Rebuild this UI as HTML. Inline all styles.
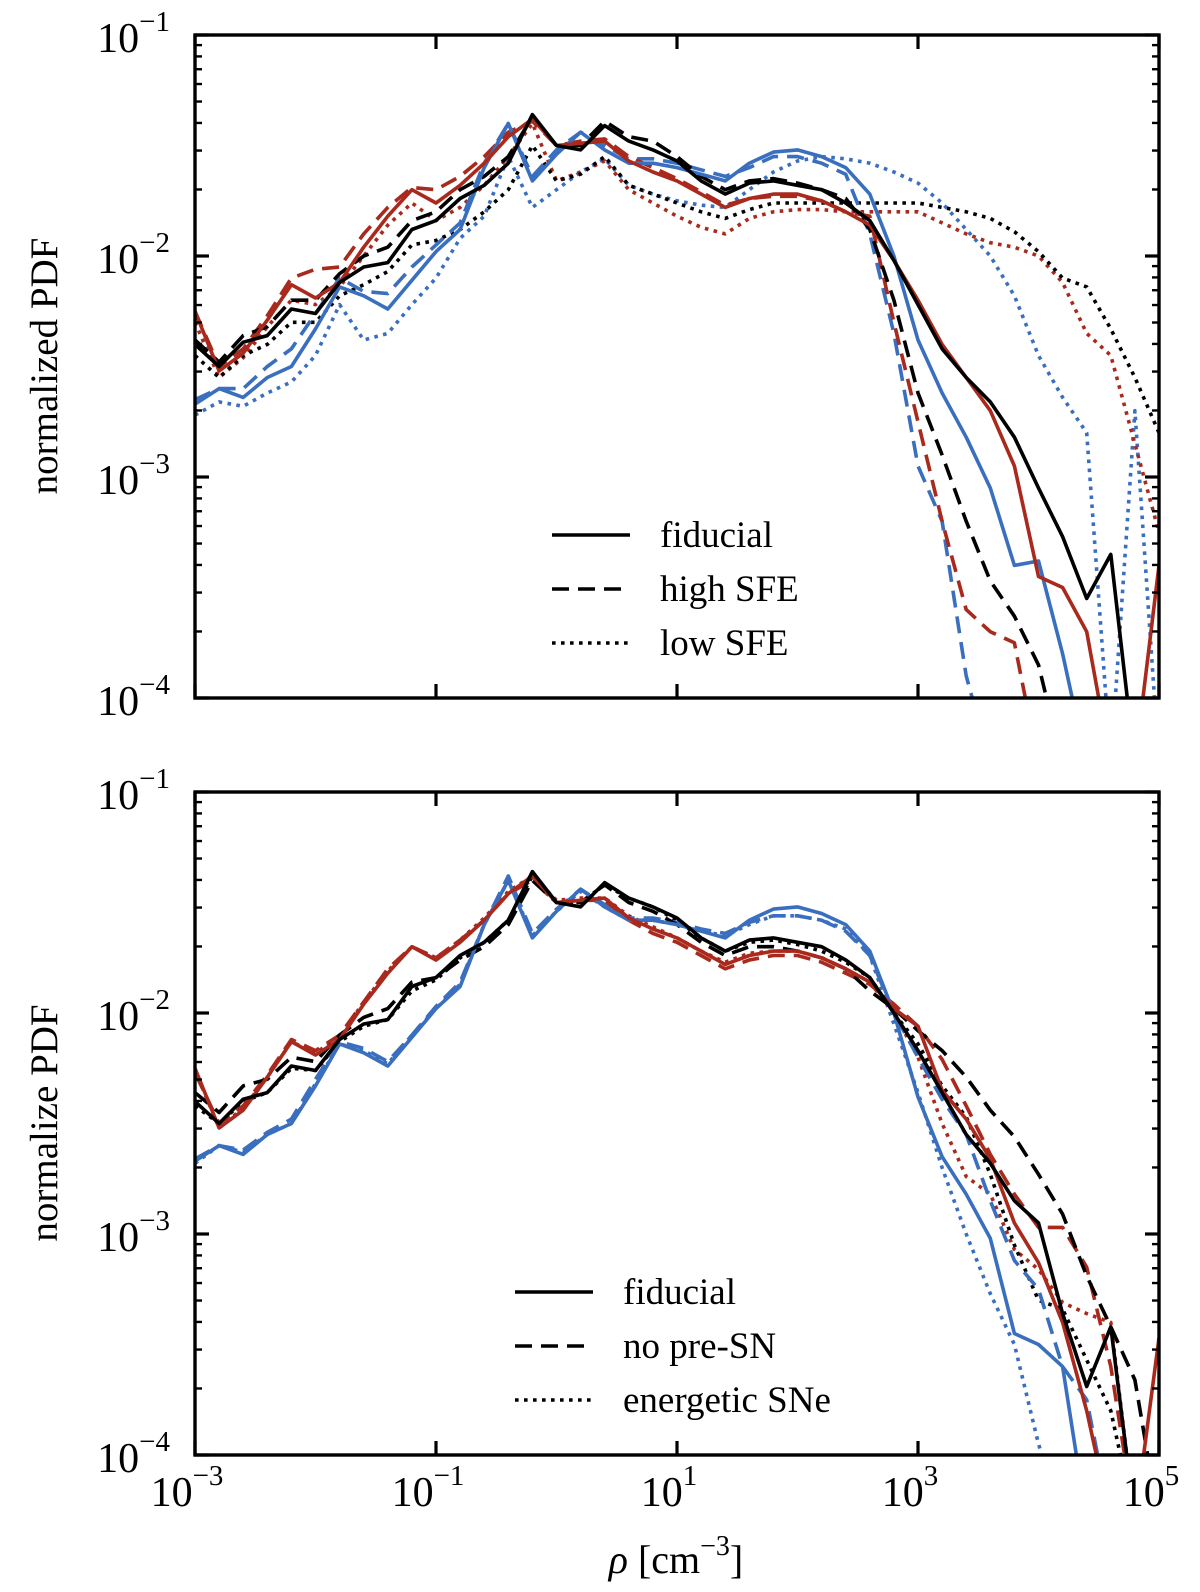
<!DOCTYPE html>
<html><head><meta charset="utf-8"><title>Density PDFs</title>
<style>
html,body{margin:0;padding:0;background:#fff;width:1200px;height:1592px;overflow:hidden;}
svg{display:block;}
text{font-family:"Liberation Serif",serif;fill:#000;}
</style></head>
<body>
<svg id="fig" width="1200" height="1592" viewBox="0 0 1200 1592" xmlns="http://www.w3.org/2000/svg">
<defs>
<clipPath id="clipTop"><rect x="195" y="35" width="964" height="663"/></clipPath>
<clipPath id="clipBot"><rect x="195" y="792" width="964" height="663"/></clipPath>
</defs>
<g id="topPanel"></g>
<g id="botPanel"></g>
<text x="0" y="0" font-size="39" text-anchor="middle" transform="translate(57,366) rotate(-90)">normalized PDF</text>
<text x="0" y="0" font-size="39" text-anchor="middle" transform="translate(57,1123) rotate(-90)">normalize PDF</text>
<text x="676" y="1573" font-size="40" text-anchor="middle"><tspan font-style="italic">ρ</tspan> [cm<tspan dy="-18" font-size="28">−3</tspan><tspan dy="18">]</tspan></text>
</svg>
<script>
// log10(rho) bin centres
const logRho = [-3,-2.8,-2.6,-2.4,-2.2,-2.0,-1.8,-1.6,-1.4,-1.2,-1.0,-0.8,-0.6,-0.4,-0.2,0,0.2,0.4,0.6,0.8,1.0,1.2,1.4,1.6,1.8,2.0,2.2,2.4,2.6,2.8,3.0,3.2,3.4,3.6,3.8,4.0,4.2,4.4,4.6,4.8,5.0];
const xTickExps = [-3,-1,1,3,5];
const yTickExps = [-1,-2,-3,-4];
const topLegendLabels = ["fiducial","high SFE","low SFE"];
const botLegendLabels = ["fiducial","no pre-SN","energetic SNe"];

// top panel (log10 PDF); -4.3 = falls below axis
const topKfid = [-2.4,-2.5,-2.39,-2.36,-2.24,-2.26,-2.12,-2.05,-2.03,-1.88,-1.84,-1.74,-1.68,-1.58,-1.36,-1.5,-1.52,-1.41,-1.48,-1.52,-1.57,-1.66,-1.72,-1.67,-1.66,-1.68,-1.7,-1.76,-1.84,-2.02,-2.22,-2.42,-2.55,-2.66,-2.82,-3.05,-3.27,-3.55,-3.35,-4.3,null];
const topKhi = [-2.38,-2.48,-2.36,-2.32,-2.2,-2.2,-2.08,-2.0,-1.96,-1.84,-1.8,-1.7,-1.64,-1.55,-1.37,-1.5,-1.5,-1.39,-1.46,-1.48,-1.55,-1.64,-1.7,-1.66,-1.65,-1.67,-1.7,-1.74,-1.88,-2.2,-2.62,-2.9,-3.2,-3.47,-3.63,-3.85,-4.3,null,null,null,null];
const topKlo = [-2.45,-2.55,-2.45,-2.4,-2.3,-2.3,-2.18,-2.13,-2.07,-1.95,-1.93,-1.88,-1.8,-1.7,-1.5,-1.66,-1.63,-1.55,-1.68,-1.72,-1.76,-1.8,-1.83,-1.79,-1.76,-1.76,-1.76,-1.76,-1.76,-1.76,-1.76,-1.78,-1.8,-1.83,-1.89,-1.98,-2.1,-2.14,-2.33,-2.55,-2.8];
const topRfid = [-2.25,-2.52,-2.44,-2.29,-2.13,-2.19,-2.12,-1.96,-1.82,-1.7,-1.76,-1.68,-1.58,-1.46,-1.38,-1.5,-1.49,-1.48,-1.57,-1.62,-1.66,-1.72,-1.78,-1.74,-1.72,-1.72,-1.75,-1.8,-1.86,-2.02,-2.2,-2.4,-2.55,-2.7,-2.95,-3.45,-3.5,-3.7,-4.3,-4.3,-3.4];
const topRhi = [-2.25,-2.5,-2.42,-2.27,-2.1,-2.06,-2.05,-1.9,-1.78,-1.69,-1.7,-1.64,-1.55,-1.44,-1.39,-1.5,-1.48,-1.47,-1.55,-1.6,-1.65,-1.71,-1.77,-1.74,-1.73,-1.73,-1.75,-1.8,-1.82,-2.3,-2.75,-3.2,-3.6,-3.7,-3.75,-4.3,null,null,null,null,null];
const topRlo = [-2.3,-2.55,-2.46,-2.32,-2.2,-2.22,-2.14,-2.0,-1.86,-1.76,-1.84,-1.78,-1.68,-1.55,-1.4,-1.66,-1.62,-1.57,-1.7,-1.76,-1.82,-1.87,-1.9,-1.83,-1.8,-1.79,-1.79,-1.8,-1.8,-1.8,-1.8,-1.85,-1.9,-1.94,-1.96,-2.0,-2.12,-2.35,-2.45,-2.85,-3.25];
const topBfid = [-2.67,-2.6,-2.64,-2.55,-2.5,-2.33,-2.14,-2.18,-2.24,-2.11,-1.98,-1.88,-1.6,-1.4,-1.66,-1.54,-1.44,-1.52,-1.58,-1.58,-1.6,-1.63,-1.66,-1.58,-1.53,-1.52,-1.55,-1.6,-1.72,-2.0,-2.38,-2.62,-2.82,-3.05,-3.4,-3.38,-3.8,-4.3,null,null,null];
const topBhi = [-2.65,-2.6,-2.6,-2.5,-2.42,-2.26,-2.1,-2.16,-2.17,-2.05,-1.95,-1.85,-1.58,-1.4,-1.64,-1.52,-1.44,-1.5,-1.56,-1.56,-1.58,-1.61,-1.64,-1.6,-1.55,-1.55,-1.58,-1.63,-1.9,-2.35,-2.95,-3.2,-3.9,-4.3,null,null,null,null,null,null,null];
const topBlo = [-2.72,-2.66,-2.68,-2.62,-2.57,-2.45,-2.22,-2.38,-2.35,-2.22,-2.1,-1.92,-1.82,-1.55,-1.78,-1.7,-1.62,-1.56,-1.68,-1.72,-1.75,-1.77,-1.78,-1.7,-1.62,-1.57,-1.55,-1.56,-1.58,-1.62,-1.67,-1.76,-1.88,-2.0,-2.18,-2.45,-2.64,-2.8,-4.3,-2.7,-4.3];

// bottom panel (log10 PDF)
const botKfid = [-2.4,-2.5,-2.39,-2.36,-2.24,-2.26,-2.12,-2.05,-2.03,-1.88,-1.84,-1.74,-1.68,-1.58,-1.36,-1.5,-1.52,-1.41,-1.48,-1.52,-1.57,-1.66,-1.72,-1.67,-1.66,-1.68,-1.7,-1.76,-1.84,-2.0,-2.17,-2.36,-2.55,-2.68,-2.85,-2.95,-3.36,-3.69,-3.42,-4.3,null];
const botKdash = [-2.36,-2.45,-2.33,-2.3,-2.2,-2.22,-2.1,-2.02,-1.98,-1.86,-1.84,-1.76,-1.7,-1.6,-1.4,-1.5,-1.5,-1.42,-1.5,-1.54,-1.6,-1.68,-1.74,-1.7,-1.7,-1.72,-1.75,-1.8,-1.9,-1.98,-2.08,-2.17,-2.29,-2.44,-2.56,-2.73,-2.91,-3.19,-3.42,-3.66,-4.3];
const botKdot = [-2.42,-2.5,-2.4,-2.36,-2.25,-2.26,-2.13,-2.06,-2.03,-1.9,-1.85,-1.75,-1.68,-1.58,-1.38,-1.5,-1.5,-1.42,-1.48,-1.52,-1.58,-1.66,-1.72,-1.68,-1.67,-1.69,-1.72,-1.77,-1.84,-2.0,-2.14,-2.33,-2.47,-2.73,-3.05,-3.3,-3.34,-3.57,-3.8,-4.3,null];
const botRfid = [-2.25,-2.52,-2.44,-2.29,-2.13,-2.19,-2.12,-1.96,-1.82,-1.7,-1.76,-1.68,-1.58,-1.46,-1.38,-1.5,-1.49,-1.48,-1.57,-1.62,-1.66,-1.72,-1.78,-1.74,-1.72,-1.72,-1.75,-1.8,-1.86,-1.98,-2.06,-2.35,-2.48,-2.66,-2.95,-3.13,-3.4,-3.8,-4.3,-4.3,-3.47];
const botRdash = [-2.27,-2.5,-2.42,-2.28,-2.12,-2.17,-2.1,-1.95,-1.8,-1.7,-1.75,-1.67,-1.58,-1.46,-1.4,-1.5,-1.49,-1.49,-1.58,-1.64,-1.68,-1.74,-1.8,-1.76,-1.74,-1.74,-1.77,-1.82,-1.87,-1.96,-2.06,-2.21,-2.42,-2.64,-2.82,-2.97,-2.97,-3.15,-3.6,-4.3,null];
const botRdot = [-2.26,-2.52,-2.43,-2.29,-2.13,-2.18,-2.11,-1.95,-1.81,-1.7,-1.75,-1.67,-1.57,-1.45,-1.38,-1.49,-1.48,-1.48,-1.56,-1.61,-1.66,-1.72,-1.77,-1.73,-1.72,-1.72,-1.75,-1.8,-1.86,-2.0,-2.2,-2.5,-2.74,-2.82,-3.07,-3.16,-3.31,-3.36,-3.4,-4.3,null];
const botBfid = [-2.67,-2.6,-2.64,-2.55,-2.5,-2.33,-2.14,-2.18,-2.24,-2.11,-1.98,-1.88,-1.6,-1.4,-1.66,-1.54,-1.44,-1.52,-1.58,-1.58,-1.6,-1.63,-1.66,-1.58,-1.53,-1.52,-1.55,-1.6,-1.72,-2.0,-2.38,-2.65,-2.82,-3.02,-3.45,-3.5,-3.6,-4.3,null,null,null];
const botBdash = [-2.66,-2.6,-2.62,-2.54,-2.48,-2.3,-2.13,-2.16,-2.22,-2.1,-1.97,-1.86,-1.6,-1.38,-1.64,-1.53,-1.44,-1.51,-1.57,-1.57,-1.59,-1.62,-1.64,-1.59,-1.56,-1.56,-1.58,-1.63,-1.74,-2.0,-2.2,-2.39,-2.55,-2.85,-3.12,-3.25,-3.6,-3.75,-4.3,null,null];
const botBdot = [-2.68,-2.6,-2.63,-2.55,-2.5,-2.32,-2.14,-2.17,-2.23,-2.1,-1.98,-1.87,-1.6,-1.4,-1.65,-1.54,-1.45,-1.52,-1.58,-1.58,-1.6,-1.63,-1.65,-1.6,-1.56,-1.56,-1.58,-1.62,-1.74,-2.05,-2.36,-2.7,-3.0,-3.27,-3.5,-3.95,-4.3,null,null,null,null];

const NS = "http://www.w3.org/2000/svg";
const RED = "#a9291d", BLUE = "#3a6fbf", BLACK = "#000";
const DASH = "17 9", DOT = "3.6 5.4";
const X0 = 195, X1 = 1159;
function xScale(lx){ return X0 + (lx + 3) / 8 * (X1 - X0); }
function makeY(top){ return function(ly){ return top + (-1 - ly) * 221; }; }

function el(tag, attrs, parent){
  const e = document.createElementNS(NS, tag);
  for (const k in attrs) e.setAttribute(k, attrs[k]);
  parent.appendChild(e);
  return e;
}

function drawSeries(g, vals, yS, color, dash, name){
  let segs = [], cur = [];
  for (let i = 0; i < logRho.length; i++){
    if (vals[i] === null){ if (cur.length) segs.push(cur); cur = []; }
    else cur.push(xScale(logRho[i]).toFixed(1) + "," + yS(vals[i]).toFixed(1));
  }
  if (cur.length) segs.push(cur);
  segs.forEach(function(s){
    if (s.length < 2) return;
    const p = el("polyline", {points: s.join(" "), fill: "none", stroke: color, "stroke-width": 3.6, "stroke-linejoin": "round"}, g);
    if (dash) p.setAttribute("stroke-dasharray", dash);
    
    
  });
}

function drawAxes(g, top){
  const bottom = top + 663;
  const yS = makeY(top);
  for (let e = -4; e <= -1; e++){
    const y = yS(e);
    el("line", {x1: X0, x2: X0 + 14, y1: y, y2: y, stroke: "#000", "stroke-width": 3.2}, g);
    el("line", {x1: X1, x2: X1 - 14, y1: y, y2: y, stroke: "#000", "stroke-width": 3.2}, g);
    if (e < -1){
      for (let m = 2; m <= 9; m++){
        const ym = yS(e + Math.log10(m));
        el("line", {x1: X0, x2: X0 + 7, y1: ym, y2: ym, stroke: "#000", "stroke-width": 2.4}, g);
        el("line", {x1: X1, x2: X1 - 7, y1: ym, y2: ym, stroke: "#000", "stroke-width": 2.4}, g);
      }
    }
  }
  yTickExps.forEach(function(e){
    const t = el("text", {x: 170, y: yS(e) + 17, "text-anchor": "end", "font-size": 42}, g);
    
    
    const a = document.createElementNS(NS, "tspan"); a.textContent = "10"; t.appendChild(a);
    const b = document.createElementNS(NS, "tspan"); b.setAttribute("dy", -21); b.setAttribute("font-size", 29); b.textContent = "\u2212" + Math.abs(e); t.appendChild(b);
  });
  xTickExps.forEach(function(e){
    const x = xScale(e);
    el("line", {x1: x, x2: x, y1: bottom, y2: bottom - 14, stroke: "#000", "stroke-width": 3.2}, g);
    el("line", {x1: x, x2: x, y1: top, y2: top + 14, stroke: "#000", "stroke-width": 3.2}, g);
  });
  el("rect", {x: X0, y: top, width: X1 - X0, height: 663, fill: "none", stroke: "#000", "stroke-width": 3.4}, g);
}

function drawLegend(g, x0, y0, labels){
  const dashes = [null, DASH, DOT];
  labels.forEach(function(lab, i){
    const y = y0 + i * 54;
    const l = el("line", {x1: x0, x2: x0 + 78, y1: y, y2: y, stroke: "#000", "stroke-width": 3.4}, g);
    if (dashes[i]) l.setAttribute("stroke-dasharray", dashes[i]);
    
    
    const t = el("text", {x: x0 + 108, y: y + 12, "font-size": 37}, g);
    t.textContent = lab;
    
    
  });
}

function panel(gid, top, clip, series, legendX, legendY, labels){
  const g = document.getElementById(gid);
  const yS = makeY(top);
  const lines = el("g", {"clip-path": "url(#" + clip + ")"}, g);
  
  
  series.forEach(function(s){ drawSeries(lines, s[0], yS, s[1], s[2], s[3]); });
  drawAxes(g, top);
  drawLegend(g, legendX, legendY, labels);
}

panel("topPanel", 35, "clipTop", [
  [topBlo, BLUE, DOT, "blue-low-sfe"], [topRlo, RED, DOT, "red-low-sfe"], [topKlo, BLACK, DOT, "black-low-sfe"],
  [topBhi, BLUE, DASH, "blue-high-sfe"], [topRhi, RED, DASH, "red-high-sfe"], [topKhi, BLACK, DASH, "black-high-sfe"],
  [topBfid, BLUE, null, "blue-fiducial"], [topRfid, RED, null, "red-fiducial"], [topKfid, BLACK, null, "black-fiducial"]
], 552, 535, topLegendLabels);

panel("botPanel", 792, "clipBot", [
  [botBdot, BLUE, DOT, "blue-energetic-sne"], [botRdot, RED, DOT, "red-energetic-sne"], [botKdot, BLACK, DOT, "black-energetic-sne"],
  [botBdash, BLUE, DASH, "blue-no-pre-sn"], [botRdash, RED, DASH, "red-no-pre-sn"], [botKdash, BLACK, DASH, "black-no-pre-sn"],
  [botBfid, BLUE, null, "blue-fiducial"], [botRfid, RED, null, "red-fiducial"], [botKfid, BLACK, null, "black-fiducial"]
], 515, 1292, botLegendLabels);

const svg = document.getElementById("fig");
xTickExps.forEach(function(e){
  const t = el("text", {x: xScale(e) - 8, y: 1506, "text-anchor": "middle", "font-size": 42}, svg);
  
  
  const a = document.createElementNS(NS, "tspan"); a.textContent = "10"; t.appendChild(a);
  const b = document.createElementNS(NS, "tspan"); b.setAttribute("dy", -21); b.setAttribute("font-size", 29);
  b.textContent = (e < 0 ? "\u2212" : "") + Math.abs(e); t.appendChild(b);
});
</script>
</body></html>
